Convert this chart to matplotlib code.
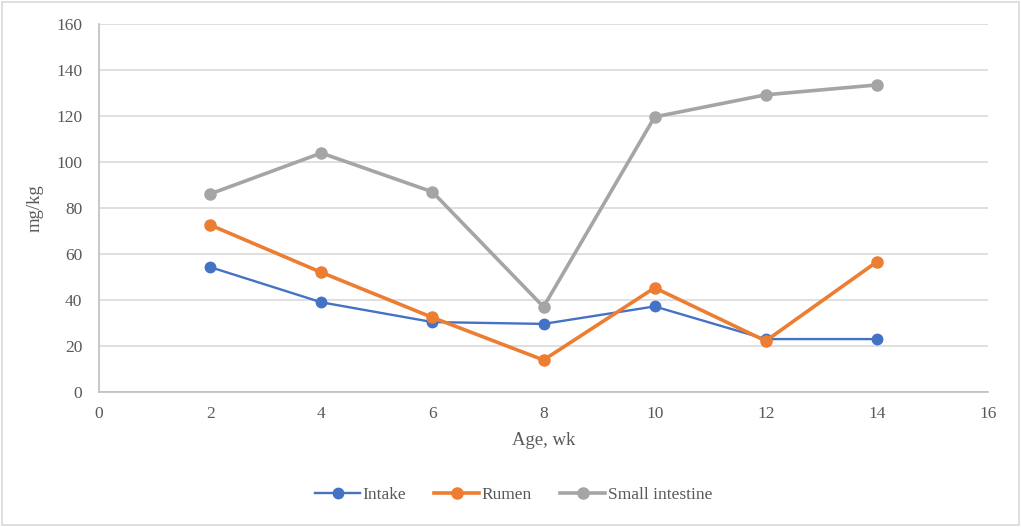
import matplotlib
matplotlib.use("Agg")
import matplotlib.pyplot as plt
from matplotlib.patches import Rectangle

# data
age_wk = [2, 4, 6, 8, 10, 12, 14]
intake = [54.3, 39.0, 30.4, 29.6, 37.2, 23.0, 23.0]
rumen = [72.6, 52.0, 32.4, 13.9, 45.3, 22.2, 56.6]
small_intestine = [86.1, 103.9, 87.0, 37.0, 119.6, 129.2, 133.5]

plt.rcParams["font.family"] = ["Liberation Serif", "DejaVu Serif"]
text_col = "#595959"

fig = plt.figure(figsize=(10.21, 5.27), dpi=100)
ax = fig.add_axes([0.097, 0.2562, 0.8707, 0.6983])

ax.plot(age_wk, intake, color="#4472c4", lw=1.7, marker="o", ms=7.5,
        label="Intake", zorder=3)
ax.plot(age_wk, rumen, color="#ed7d31", lw=2.6, marker="o", ms=8,
        label="Rumen", zorder=4)
ax.plot(age_wk, small_intestine, color="#a5a5a5", lw=2.6, marker="o", ms=8,
        label="Small intestine", zorder=3)

ax.set_xlim(0, 16)
ax.set_ylim(0, 160)
ax.set_xticks(range(0, 17, 2))
ax.set_yticks(range(0, 161, 20))
ax.yaxis.grid(True, color="#d9d9d9", lw=1.2)
ax.set_axisbelow(True)

for side in ["top", "right"]:
    ax.spines[side].set_visible(False)
for side in ["left", "bottom"]:
    ax.spines[side].set_color("#bfbfbf")
    ax.spines[side].set_linewidth(1.2)
ax.tick_params(length=0, labelsize=12.5, colors=text_col)
ax.tick_params(axis="y", pad=12)
ax.tick_params(axis="x", pad=10)

ax.set_xlabel("Age, wk", fontsize=13.5, color=text_col, labelpad=7)
ax.set_ylabel("mg/kg", fontsize=13.5, color=text_col, labelpad=9)

fig.legend(loc="center", bbox_to_anchor=(0.503, 0.06), ncol=3, frameon=False,
           fontsize=12.5, labelcolor=text_col, handlelength=2.6,
           handletextpad=0.15, columnspacing=1.6)

fig.patches.append(Rectangle((0.002, 0.003), 0.996, 0.994, transform=fig.transFigure,
                             fill=False, edgecolor="#d9d9d9", lw=1.2))

fig.savefig("out.png", dpi=100)
